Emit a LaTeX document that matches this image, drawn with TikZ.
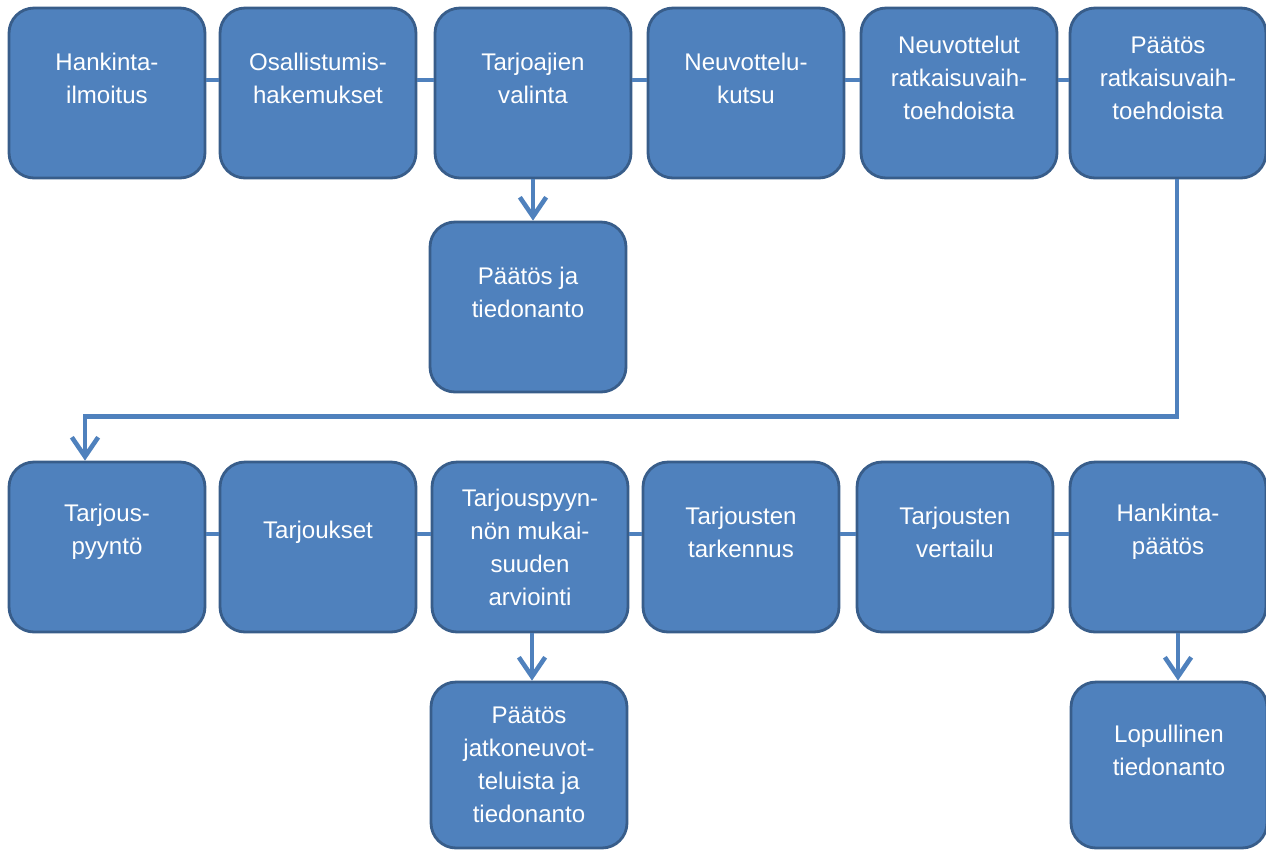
\documentclass[tikz,border=0pt]{standalone}
\usepackage{fontspec}
\setmainfont{Liberation Sans}
\usepackage{xcolor}
\usetikzlibrary{arrows.meta}
\definecolor{boxblue}{HTML}{4F81BD}
\definecolor{boxedge}{HTML}{385D8A}

\begin{document}
\begin{tikzpicture}[x=0.02cm, y=-0.02cm,
        box/.style={draw=boxedge, line width=1.6pt, fill=boxblue, rounded corners=0.5cm,
            minimum width=3.92cm, minimum height=3.4cm},
        txt/.style={text=white, align=center, font=\fontsize{13.7}{18.8}\selectfont},
        txtup/.style={txt, yshift=0.3cm},
        link/.style={draw=boxblue, line width=2.6pt},
        arr/.style={link, -{Straight Barb[length=11pt, width=15pt]}}]
        \useasboundingbox (0, 0) rectangle (1266, 850);

        % first row
        \node[box, label={[txtup]center:{Hankinta-\\ilmoitus}}] (ilmoitus) at (107, 93) {};
        \node[box, label={[txtup]center:{Osallistumis-\\hakemukset}}] (hakemukset) at (318, 93) {};
        \node[box, label={[txtup]center:{Tarjoajien\\valinta}}] (valinta) at (533, 93) {};
        \node[box, label={[txtup]center:{Neuvottelu-\\kutsu}}] (kutsu) at (746, 93) {};
        \node[box, label={[txtup]center:{Neuvottelut\\ratkaisuvaih-\\toehdoista}}] (neuvottelut) at (959, 93) {};
        \node[box, label={[txtup]center:{Päätös\\ratkaisuvaih-\\toehdoista}}] (ratkaisu) at (1168, 93) {};
        \node[box, label={[txtup]center:{Päätös ja\\tiedonanto}}] (tiedonanto) at (528, 307) {};

        % second row
        \node[box, label={[txtup]center:{Tarjous-\\pyyntö}}] (pyynto) at (107, 547) {};
        \node[box, label={[txtup]center:{Tarjoukset}}] (tarjoukset) at (318, 547) {};
        \node[box, label={[txt]center:{Tarjouspyyn-\\nön mukai-\\suuden\\arviointi}}] (arviointi) at (530, 547) {};
        \node[box, label={[txtup]center:{Tarjousten\\tarkennus}}] (tarkennus) at (741, 547) {};
        \node[box, label={[txtup]center:{Tarjousten\\vertailu}}] (vertailu) at (955, 547) {};
        \node[box, label={[txtup]center:{Hankinta-\\päätös}}] (hankinta) at (1168, 547) {};
        \node[box, minimum height=3.32cm, label={[txt]center:{Päätös\\jatkoneuvot-\\teluista ja\\tiedonanto}}] (jatko) at (529, 765) {};
        \node[box, minimum height=3.32cm, label={[txtup]center:{Lopullinen\\tiedonanto}}] (lopullinen) at (1169, 765) {};

        \foreach \a/\b in {ilmoitus/hakemukset, hakemukset/valinta, valinta/kutsu, kutsu/neuvottelut,
            neuvottelut/ratkaisu, pyynto/tarjoukset, tarjoukset/arviointi, arviointi/tarkennus,
            tarkennus/vertailu, vertailu/hankinta}
            \draw[link] ([yshift=0.26cm]\a.east) -- ([yshift=0.26cm]\b.west);

        \draw[arr] (valinta.south) -- (valinta.south |- tiedonanto.north);
        \draw[arr] ([xshift=0.04cm]arviointi.south) -- ([xshift=0.04cm]arviointi.south |- jatko.north);
        \draw[arr] ([xshift=0.2cm]hankinta.south) -- ([xshift=0.2cm]hankinta.south |- lopullinen.north);
        \draw[arr] ([xshift=0.18cm]ratkaisu.south) -- ++(0, 237) -| ([xshift=-0.44cm]pyynto.north);
    \end{tikzpicture}
\end{document}
